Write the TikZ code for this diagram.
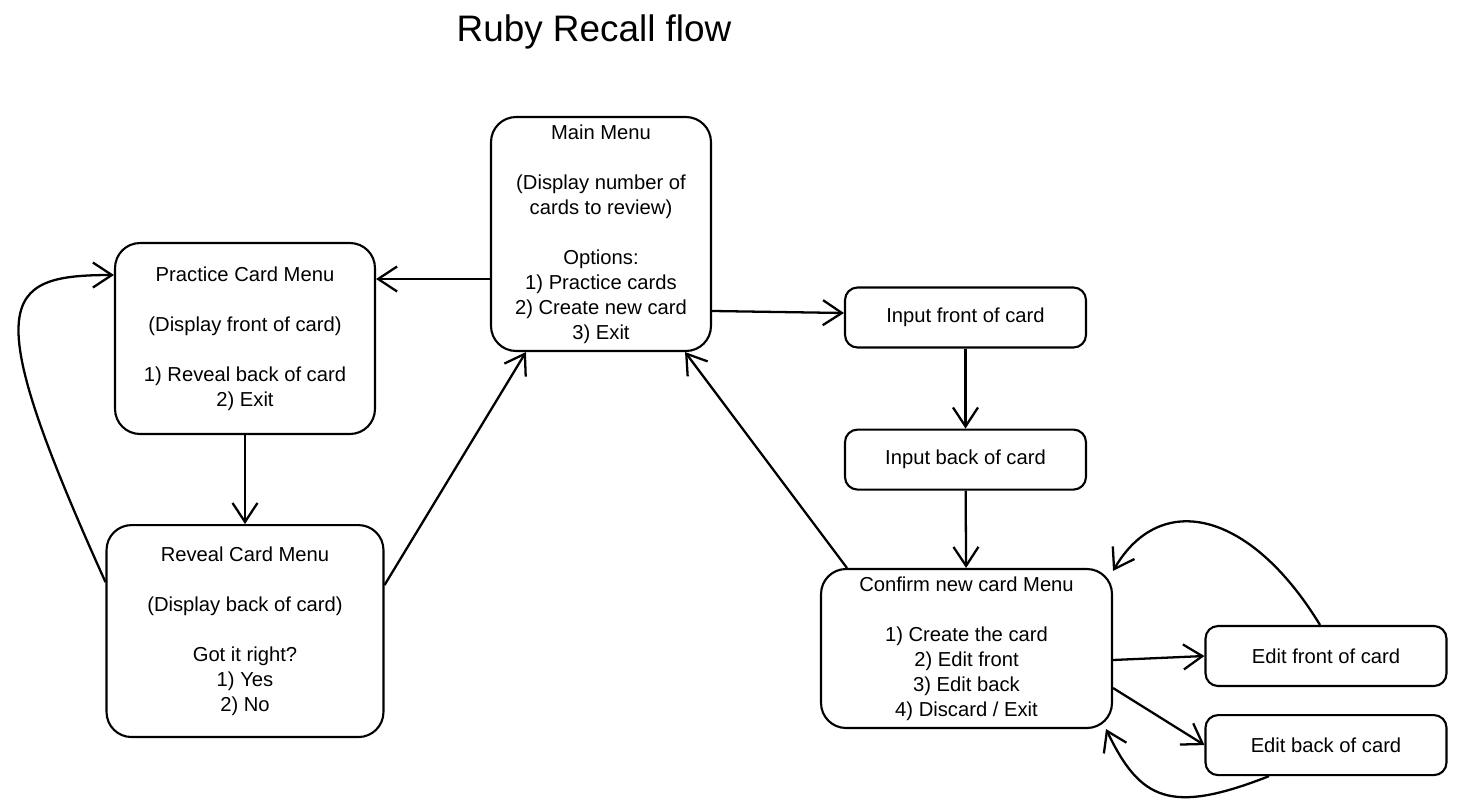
\documentclass[tikz,border=0pt]{standalone}
\usepackage{fontspec}
\setmainfont{Liberation Sans}
\usetikzlibrary{positioning, arrows.meta}

\tikzset{
  menubox/.style={draw, line width=1.2pt, rounded corners=0.5cm, align=center,
    inner sep=0pt, font=\fontsize{11.5}{14.23}\selectfont},
  inputbox/.style={menubox, rounded corners=0.25cm,
    minimum width=4.82cm, minimum height=1.2cm},
  flow/.style={-{Straight Barb[length=3.8mm,width=5mm]}, line width=1.3pt}
}

\begin{document}
\begin{tikzpicture}[x=0.02cm, y=-0.02cm]
\useasboundingbox (0,0) rectangle (1458,809);

\node[font=\fontsize{21}{25}\selectfont] (title) at (594,32) {Ruby Recall flow};

\node[menubox, minimum width=4.4cm, minimum height=4.68cm] (main) at (601,234)
    {Main Menu\\[0.5cm] (Display number of\\ cards to review)\\[0.5cm]
     Options:\\ 1) Practice cards\\ 2) Create new card\\ 3) Exit};
\node[menubox, minimum width=5.2cm, minimum height=3.82cm] (practice) at (245,338.5)
    {Practice Card Menu\\[0.5cm] (Display front of card)\\[0.5cm]
     1) Reveal back of card\\ 2) Exit};
\node[menubox, minimum width=5.54cm, minimum height=4.24cm,
    below=1.78cm of practice] (reveal)
    {Reveal Card Menu\\[0.5cm] (Display back of card)\\[0.5cm]
     Got it right?\\ 1) Yes\\ 2) No};

\node[inputbox] (infront) at (965.5,317.5) {Input front of card};
\node[inputbox, below=1.6cm of infront] (inback) {Input back of card};
\node[menubox, minimum width=5.82cm, minimum height=3.18cm] (confirm) at (966.5,648.5)
    {Confirm new card Menu\\[0.5cm] 1) Create the card\\ 2) Edit front\\
     3) Edit back\\ 4) Discard / Exit};
\node[inputbox] (editfront) at (1326,656) {Edit front of card};
\node[inputbox, below=0.54cm of editfront] (editback) {Edit back of card};

\draw
    ([yshift=-0.9cm]main.west) edge[flow] ([yshift=-0.9cm]main.west -| practice.east)
    ([yshift=-1.54cm]main.east) edge[flow] ([yshift=0.09cm]infront.west)
    (infront) edge[flow] (inback)
    (inback) edge[flow] (confirm)
    ([xshift=0.54cm]confirm.north west) edge[flow] ([xshift=-0.54cm]main.south east)
    ([yshift=0.92cm]reveal.east) edge[flow] ([xshift=0.72cm]main.south west)
    (practice) edge[flow] (reveal)
    ([yshift=-0.23cm]confirm.east) edge[flow] (editfront.west)
    ([yshift=-0.79cm]confirm.east) edge[flow] (editback.west);

\draw[flow] ([yshift=0.98cm]reveal.west) .. controls (-22,300) and (0,275)
    .. ([yshift=1.27cm]practice.west);
\draw[flow] ([xshift=-0.12cm]editfront.north) .. controls (1250,510) and (1160,490)
    .. ([yshift=-0.06cm]confirm.north east);
\draw[flow] ([xshift=-1.14cm]editback.south) .. controls (1170,815) and (1140,800)
    .. ([xshift=-0.14cm]confirm.south east);
\end{tikzpicture}
\end{document}
